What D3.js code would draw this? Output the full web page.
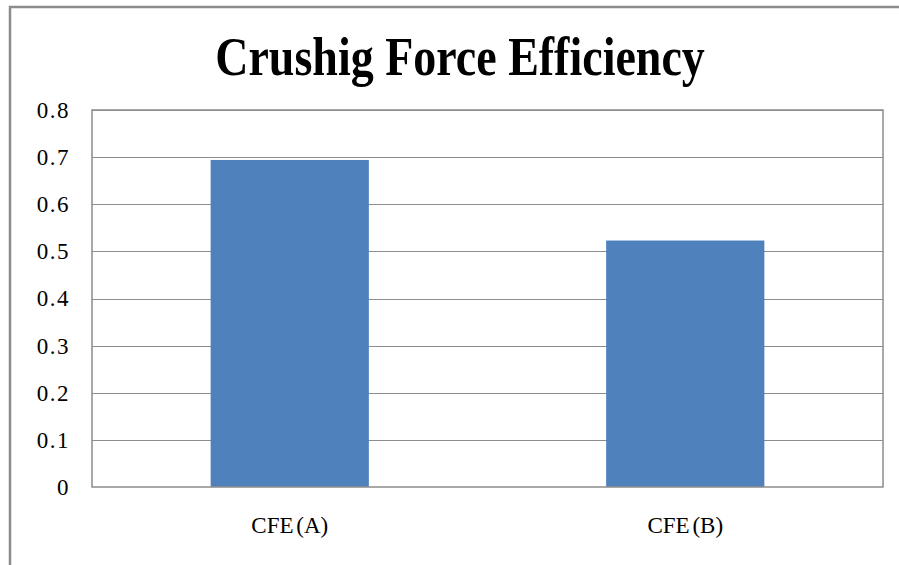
<!DOCTYPE html>
<html>
<head>
<meta charset="utf-8">
<script src="https://cdn.jsdelivr.net/npm/d3@7"></script>
<style>
  body { margin: 0; background: #fff; }
  svg { display: block; font-family: "Liberation Serif", "Times New Roman", serif; }
</style>
</head>
<body>
<svg width="899" height="565"></svg>
<script>
var categories = ["CFE (A)", "CFE (B)"];
var values = [0.694, 0.523];
var yTicks = [0, 0.1, 0.2, 0.3, 0.4, 0.5, 0.6, 0.7, 0.8];
var title = "Crushig Force Efficiency";

var svg = d3.select("svg"),
    margin = {top: 110, right: 16, bottom: 78, left: 92},
    width = +svg.attr("width") - margin.left - margin.right,
    height = +svg.attr("height") - margin.top - margin.bottom;

// outer chart frame (runs off the right and bottom of the window)
svg.append("rect")
    .attr("x", 10).attr("y", 7)
    .attr("width", 1000).attr("height", 700)
    .attr("fill", "#fff")
    .attr("stroke", "#8c8c8c")
    .attr("stroke-width", 2.5);

// title is a little taller than the font in the source, so stretch it
svg.append("text")
    .attr("transform", "translate(460,75) scale(1,1.2)")
    .attr("text-anchor", "middle")
    .attr("font-size", 46)
    .attr("font-weight", "bold")
    .attr("fill", "#000")
    .text(title);

var x = d3.scaleBand().domain(categories).range([0, width])
    .paddingInner(0.6).paddingOuter(0.3);
var y = d3.scaleLinear().domain([0, 0.8]).range([height, 0]);

var g = svg.append("g")
    .attr("transform", "translate(" + margin.left + "," + margin.top + ")");

// gridlines
g.append("g").selectAll("line")
    .data(yTicks.slice(1))
    .enter().append("line")
    .attr("x1", 0).attr("x2", width)
    .attr("y1", function(d) { return Math.round(y(d)) + 0.5; })
    .attr("y2", function(d) { return Math.round(y(d)) + 0.5; })
    .attr("stroke", "#8c8c8c")
    .attr("stroke-width", 1.2);

g.selectAll("rect.bar")
    .data(values)
    .enter().append("rect")
    .attr("class", "bar")
    .attr("x", function(d, i) { return x(categories[i]); })
    .attr("y", function(d) { return y(d); })
    .attr("width", x.bandwidth())
    .attr("height", function(d) { return height - y(d); })
    .attr("fill", "#4f81bd");

// plot frame
g.append("rect")
    .attr("x", 0).attr("y", 0)
    .attr("width", width).attr("height", height)
    .attr("fill", "none")
    .attr("stroke", "#8c8c8c")
    .attr("stroke-width", 1.5);

var yAxis = d3.axisLeft(y).tickValues(yTicks).tickSize(0).tickPadding(22)
    .tickFormat(function(d) { return d === 0 ? "0" : d3.format(".1f")(d); });
var ya = g.append("g").call(yAxis);
ya.select(".domain").remove();
ya.selectAll("text")
    .attr("font-family", "Liberation Serif, serif")
    .attr("font-size", 23)
    .attr("letter-spacing", 1.5)
    .attr("fill", "#000");

var xAxis = d3.axisBottom(x).tickSize(0).tickPadding(30);
var xa = g.append("g").attr("transform", "translate(0," + height + ")").call(xAxis);
xa.select(".domain").remove();
xa.selectAll("text")
    .attr("font-family", "Liberation Serif, serif")
    .attr("font-size", 23)
    .attr("word-spacing", -3)
    .attr("fill", "#000");
</script>
</body>
</html>
